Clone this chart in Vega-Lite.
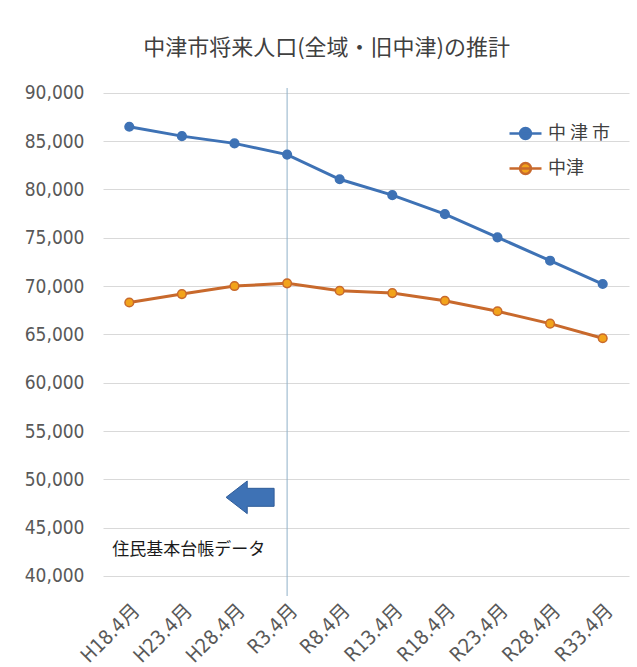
{
  "$schema": "https://vega.github.io/schema/vega-lite/v6.json",
  "autosize": "none",
  "width": 526,
  "height": 508,
  "padding": {"left": 103, "top": 88, "right": 8, "bottom": 71},
  "background": "white",
  "title": {
    "text": "中津市将来人口(全域・旧中津)の推計",
    "font": "Noto Sans CJK JP",
    "fontSize": 22,
    "fontWeight": "normal",
    "color": "#404040",
    "anchor": "middle",
    "frame": "bounds",
    "offset": 24
  },
  "datasets": {
    "pop": [
      {"period": "H18.4月", "series": "中 津 市", "value": 86480},
      {"period": "H23.4月", "series": "中 津 市", "value": 85510},
      {"period": "H28.4月", "series": "中 津 市", "value": 84760},
      {"period": "R3.4月", "series": "中 津 市", "value": 83600},
      {"period": "R8.4月", "series": "中 津 市", "value": 81050},
      {"period": "R13.4月", "series": "中 津 市", "value": 79400},
      {"period": "R18.4月", "series": "中 津 市", "value": 77440},
      {"period": "R23.4月", "series": "中 津 市", "value": 75040},
      {"period": "R28.4月", "series": "中 津 市", "value": 72620},
      {"period": "R33.4月", "series": "中 津 市", "value": 70210},
      {"period": "H18.4月", "series": "中津", "value": 68300},
      {"period": "H23.4月", "series": "中津", "value": 69170},
      {"period": "H28.4月", "series": "中津", "value": 70000},
      {"period": "R3.4月", "series": "中津", "value": 70280},
      {"period": "R8.4月", "series": "中津", "value": 69510},
      {"period": "R13.4月", "series": "中津", "value": 69270},
      {"period": "R18.4月", "series": "中津", "value": 68480},
      {"period": "R23.4月", "series": "中津", "value": 67390},
      {"period": "R28.4月", "series": "中津", "value": 66110},
      {"period": "R33.4月", "series": "中津", "value": 64600}
    ],
    "divider": [{"period": "R3.4月"}],
    "arrow": [{"period": "H28.4月", "value": 48140}],
    "note": [{"period": "H18.4月", "value": 42690, "label": "住民基本台帳データ"}]
  },
  "encoding": {
    "x": {
      "field": "period",
      "type": "ordinal",
      "sort": null,
      "scale": {
        "type": "point",
        "padding": 0.5,
        "domain": ["H18.4月", "H23.4月", "H28.4月", "R3.4月", "R8.4月", "R13.4月", "R18.4月", "R23.4月", "R28.4月", "R33.4月"]
      },
      "axis": {
        "title": null,
        "labelAngle": -45,
        "labelFontSize": 20,
        "labelFont": "Liberation Sans Narrow, DejaVu Sans Condensed, Noto Sans CJK JP",
        "labelColor": "#595959",
        "labelPadding": 4,
        "domain": false,
        "ticks": false,
        "grid": false
      }
    }
  },
  "layer": [
    {
      "data": {"name": "divider"},
      "mark": {"type": "rule", "color": "#8fb0c8", "strokeWidth": 1},
      "encoding": {}
    },
    {
      "data": {"name": "pop"},
      "mark": {"type": "line", "strokeWidth": 3},
      "encoding": {
        "y": {
          "field": "value",
          "type": "quantitative",
          "scale": {"domain": [37930, 90490], "nice": false, "zero": false},
          "axis": {
            "title": null,
            "values": [40000, 45000, 50000, 55000, 60000, 65000, 70000, 75000, 80000, 85000, 90000],
            "format": ",.0f",
            "grid": true,
            "gridColor": "#d9d9d9",
            "gridWidth": 1,
            "domain": false,
            "ticks": false,
            "labelPadding": 19,
            "labelFontSize": 19,
            "labelFont": "Liberation Sans Narrow, DejaVu Sans Condensed, sans-serif",
            "labelColor": "#595959"
          }
        },
        "stroke": {
          "field": "series",
          "type": "nominal",
          "scale": {"domain": ["中 津 市", "中津"], "range": ["#3E72B5", "#C8692C"]},
          "legend": {
            "title": null,
            "orient": "none",
            "legendX": 405,
            "legendY": 28,
            "padding": 0,
            "symbolType": "M-1,0L1,0M0.34,0A0.34,0.34,0,1,1,-0.34,0A0.34,0.34,0,1,1,0.34,0Z",
            "symbolSize": 1024,
            "symbolStrokeWidth": 2.5,
            "labelFontSize": 18,
            "labelFont": "Noto Sans CJK JP",
            "labelColor": "#404040",
            "labelOffset": 5,
            "rowPadding": 7,
            "encode": {
              "symbols": {
                "update": {
                  "fill": {"signal": "datum.index == 1 ? '#F2A31B' : '#3E72B5'"},
                  "fillOpacity": {"value": 1},
                  "opacity": {"value": 1}
                }
              }
            }
          }
        }
      }
    },
    {
      "data": {"name": "pop"},
      "mark": {"type": "point", "filled": true, "size": 75, "strokeWidth": 1.5, "opacity": 1},
      "encoding": {
        "y": {"field": "value", "type": "quantitative"},
        "stroke": {"field": "series", "type": "nominal"},
        "fill": {
          "field": "series",
          "type": "nominal",
          "scale": {"domain": ["中 津 市", "中津"], "range": ["#3E72B5", "#F2A31B"]},
          "legend": null
        }
      }
    },
    {
      "data": {"name": "arrow"},
      "mark": {
        "type": "point",
        "shape": "M-0.35,0L0.53,-0.68L0.53,-0.375L1.65,-0.375L1.65,0.375L0.53,0.375L0.53,0.68Z",
        "size": 2304,
        "filled": true,
        "fill": "#3E72B5",
        "stroke": "#2F5C99",
        "strokeWidth": 1,
        "opacity": 1
      },
      "encoding": {
        "y": {"field": "value", "type": "quantitative"}
      }
    },
    {
      "data": {"name": "note"},
      "mark": {
        "type": "text",
        "align": "left",
        "baseline": "middle",
        "dx": -17,
        "font": "Noto Sans CJK JP",
        "fontSize": 17,
        "color": "#1a1a1a"
      },
      "encoding": {
        "y": {"field": "value", "type": "quantitative"},
        "text": {"field": "label"}
      }
    }
  ],
  "config": {
    "view": {"stroke": null}
  }
}
